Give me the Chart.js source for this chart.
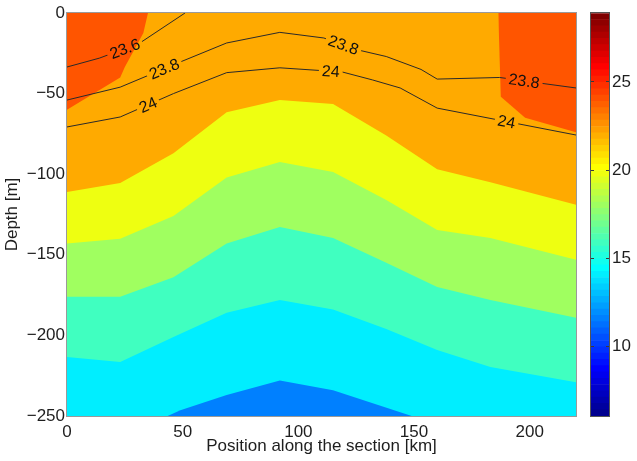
<!DOCTYPE html>
<html>
<head>
<meta charset="utf-8">
<script src="https://cdn.jsdelivr.net/npm/chart.js@4.4.1/dist/chart.umd.min.js"></script>
<style>
  html, body { margin: 0; padding: 0; background: #fff; }
  #wrap { position: relative; width: 637px; height: 461px; }
  #wrap canvas { position: absolute; left: 0; top: 0; }
</style>
</head>
<body>
<div id="wrap">
  <canvas id="section" width="637" height="461"></canvas>
  <canvas id="cbar" width="637" height="461"></canvas>
</div>
<script>
const FONT = '"Liberation Sans", Arial, Helvetica, sans-serif';
const INK = '#1e1e1e';

// Stations along the section [km]
const stationKm = [0, 23, 46, 69, 92, 115, 138, 160, 183, 220];
// Depth [m] of the edges between filled temperature bands at each station
const edgeOrangeYellow = [-111, -105.5, -87, -61.5, -54, -56.5, -76, -97, -105, -119];
const edgeYellowGreen  = [-143, -140, -126, -102, -92.5, -98.6, -116, -134.6, -139.6, -153];
const edgeGreenAqua    = [-176, -176, -164, -143, -132.7, -139.6, -155, -170, -178, -189];
const edgeAquaCyan     = [-213.4, -216.5, -201, -186, -178, -184, -196, -209, -219.6, -229];
const floorKm    = [0, 220];
const floorDepth = [-250, -250];

// Warm surface patches and the cold core near the bottom
const warmWestKm    = [0, 23, 25, 33, 35];
const warmWestDepth = [-60, -40, -33.5, -12.4, 0];
const warmEastKm    = [186.4, 187.5, 198, 220];
const warmEastDepth = [0, -52, -65, -74];
const coldCoreKm    = [43.5, 49, 69, 92, 115, 149];
const coldCoreDepth = [-250, -246.5, -237, -228, -234, -250];

// Overlaid contour lines (levels 23.6, 23.8, 24) and where their labels sit [km]
const iso236Km    = [0, 14, 31.5, 51];
const iso236Depth = [-33.5, -28, -18.6, 0];
const iso236LabelKm = [25];
const iso238Km    = [0, 23, 49.6, 69, 92, 111, 126, 138, 153, 160, 187, 205, 220];
const iso238Depth = [-54, -46, -30, -18.6, -12, -15.5, -23, -27, -35, -41, -40, -43.6, -46.5];
const iso238LabelKm = [42, 119.5, 197.6];
const iso24Km     = [0, 23, 46, 69, 92, 119, 132, 144, 160, 220];
const iso24Depth  = [-70.7, -64.5, -50, -37, -34, -36.6, -41.5, -46.5, -59, -75.7];
const iso24LabelKm = [35, 114, 190];

// Axis ticks
const xTicks = [0, 50, 100, 150, 200];
const yTicks = [-250, -200, -150, -100, -50, 0];

// Colour scale
const cMin = 6.06, cMax = 28.9, nColors = 64;
const cbarTicks = [10, 15, 20, 25];

const bandColor = {
  warm: '#FF5500', orange: '#FFAA00', yellow: '#EEFF11', green: '#A0FF60',
  aqua: '#40FFC0', cyan: '#00EEFF', cold: '#0080FF'
};

function pts(xs, ys) { return xs.map((x, i) => ({ x: x, y: ys[i] })); }

function area(xs, ys, color, fill) {
  return { data: pts(xs, ys), backgroundColor: color, borderWidth: 0, pointRadius: 0, tension: 0, fill: fill };
}
function iso(xs, ys, level, labelKm) {
  return { data: pts(xs, ys), borderColor: '#2a2a2a', borderWidth: 1, pointRadius: 0, tension: 0, fill: false,
           isoLevel: level, labelKm: labelKm };
}

// First dataset is drawn on top, so lines and patches come first,
// then the bands from the shallowest to the deepest.
const datasets = [
  iso(iso236Km, iso236Depth, '23.6', iso236LabelKm),
  iso(iso238Km, iso238Depth, '23.8', iso238LabelKm),
  iso(iso24Km, iso24Depth, '24', iso24LabelKm),
  area(warmWestKm, warmWestDepth, bandColor.warm, 'end'),
  area(warmEastKm, warmEastDepth, bandColor.warm, 'end'),
  area(coldCoreKm, coldCoreDepth, bandColor.cold, 'start'),
  area(stationKm, edgeOrangeYellow, bandColor.orange, 'end'),
  area(stationKm, edgeYellowGreen, bandColor.yellow, 'end'),
  area(stationKm, edgeGreenAqua, bandColor.green, 'end'),
  area(stationKm, edgeAquaCyan, bandColor.aqua, 'end'),
  area(floorKm, floorDepth, bandColor.cyan, 'end')
];

const LABEL_FONT = '16px ' + FONT;

function labelBoxes(chart, ds) {
  const xs = chart.scales.x, ys = chart.scales.y, ctx = chart.ctx;
  ctx.save();
  ctx.font = LABEL_FONT;
  const w = ctx.measureText(ds.isoLevel).width;
  ctx.restore();
  return ds.labelKm.map(km => {
    const d = ds.data;
    let i = 0;
    while (i < d.length - 2 && d[i + 1].x < km) i++;
    const a = d[i], b = d[i + 1];
    const t = (km - a.x) / (b.x - a.x);
    const depth = a.y + t * (b.y - a.y);
    const ax = xs.getPixelForValue(a.x), ay = ys.getPixelForValue(a.y);
    const bx = xs.getPixelForValue(b.x), by = ys.getPixelForValue(b.y);
    return { x: xs.getPixelForValue(km), y: ys.getPixelForValue(depth),
             a: Math.atan2(by - ay, bx - ax), w: w + 6, h: 14, text: ds.isoLevel };
  });
}

const isoLabels = {
  id: 'isoLabels',
  beforeDatasetDraw(chart, args) {
    const ds = chart.data.datasets[args.index];
    if (!ds.labelKm) return;
    const ctx = chart.ctx;
    ctx.save();
    ctx.beginPath();
    ctx.rect(0, 0, chart.width, chart.height);
    labelBoxes(chart, ds).forEach(bx => {
      const c = Math.cos(bx.a), s = Math.sin(bx.a), hw = bx.w / 2, hh = bx.h / 2;
      const corners = [[-hw, -hh], [hw, -hh], [hw, hh], [-hw, hh]]
        .map(([u, v]) => [bx.x + u * c - v * s, bx.y + u * s + v * c]);
      ctx.moveTo(corners[0][0], corners[0][1]);
      for (let k = 1; k < 4; k++) ctx.lineTo(corners[k][0], corners[k][1]);
      ctx.closePath();
    });
    ctx.clip('evenodd');
  },
  afterDatasetDraw(chart, args) {
    const ds = chart.data.datasets[args.index];
    if (!ds.labelKm) return;
    const ctx = chart.ctx;
    ctx.restore();
    labelBoxes(chart, ds).forEach(bx => {
      ctx.save();
      ctx.translate(bx.x, bx.y);
      ctx.rotate(bx.a);
      ctx.font = LABEL_FONT;
      ctx.fillStyle = '#111';
      ctx.textAlign = 'center';
      ctx.textBaseline = 'middle';
      ctx.fillText(bx.text, 0, 1);
      ctx.restore();
    });
  }
};

function framePlugin(color) {
  return {
    id: 'frame',
    afterDatasetsDraw(chart) {
      const a = chart.chartArea, ctx = chart.ctx;
      ctx.save();
      ctx.strokeStyle = color;
      ctx.lineWidth = 1;
      ctx.strokeRect(Math.round(a.left) - 0.5, Math.round(a.top) - 0.5,
                     Math.round(a.right - a.left) + 1, Math.round(a.bottom - a.top) + 1);
      ctx.restore();
    }
  };
}

const minusFmt = v => (v < 0 ? '\u2212' + Math.abs(v) : String(v));
const tickFont = { family: FONT, size: 17 };

new Chart(document.getElementById('section'), {
  type: 'line',
  data: { datasets: datasets },
  options: {
    responsive: false,
    animation: false,
    events: [],
    layout: { padding: { top: 13, right: 61, left: 0, bottom: 0 } },
    plugins: { legend: { display: false }, tooltip: { enabled: false } },
    scales: {
      x: {
        type: 'linear', min: 0, max: 220,
        afterBuildTicks(s) { s.ticks = xTicks.map(v => ({ value: v })); },
        afterFit(s) { s.height = 45; },
        ticks: { font: tickFont, color: INK, padding: 6, maxRotation: 0, callback: minusFmt },
        grid: { display: false, drawTicks: false },
        border: { display: false },
        title: { display: true, text: 'Position along the section [km]', font: tickFont, color: INK,
                 padding: { top: 0, bottom: 4 } }
      },
      y: {
        type: 'linear', min: -250, max: 0,
        afterBuildTicks(s) { s.ticks = yTicks.map(v => ({ value: v })); },
        afterFit(s) { s.width = 67; },
        ticks: { font: tickFont, color: INK, padding: 2, callback: minusFmt },
        grid: { display: false, drawTicks: false },
        border: { display: false },
        title: { display: true, text: 'Depth [m]', font: tickFont, color: INK, padding: { top: 2, bottom: 0 } }
      }
    }
  },
  plugins: [isoLabels, framePlugin('#9a9a9a')]
});

// MATLAB-style jet colormap, row k (0-based) of n rows
function jet(k, n) {
  const q = Math.ceil(n / 4);
  const u = i => (i < 1 ? 0 : i <= q ? i / q : i <= 2 * q - 1 ? 1 : i <= 3 * q - 1 ? (3 * q - i) / q : 0);
  const g = Math.ceil(q / 2) - (n % 4 === 1 ? 1 : 0);
  const r1 = k + 1;
  const G = u(r1 - g), R = u(r1 - g - q), B = u(r1 - g + q);
  const c = v => Math.round(Math.max(0, Math.min(1, v)) * 255);
  return 'rgb(' + c(R) + ',' + c(G) + ',' + c(B) + ')';
}

const step = (cMax - cMin) / nColors;
const cbarSets = [];
for (let k = 0; k < nColors; k++) {
  cbarSets.push({
    data: [[cMin + k * step, cMin + (k + 1) * step]],
    backgroundColor: jet(k, nColors), borderWidth: 0,
    grouped: false, barPercentage: 1, categoryPercentage: 1
  });
}

new Chart(document.getElementById('cbar'), {
  type: 'bar',
  data: { labels: [''], datasets: cbarSets },
  options: {
    responsive: false,
    animation: false,
    events: [],
    layout: { padding: { top: 12, left: 591, right: 0, bottom: 45 } },
    plugins: { legend: { display: false }, tooltip: { enabled: false } },
    scales: {
      x: { display: false },
      y: {
        position: 'right', min: cMin, max: cMax,
        afterBuildTicks(s) { s.ticks = cbarTicks.map(v => ({ value: v })); },
        afterFit(s) { s.width = 28; },
        ticks: { font: tickFont, color: INK, padding: 3 },
        grid: { drawOnChartArea: true, drawTicks: false, color: '#3a3a3a', lineWidth: 1, z: 1 },
        border: { display: false, dash: [3, 12] }
      }
    }
  },
  plugins: [framePlugin('#555')]
});
</script>
</body>
</html>
